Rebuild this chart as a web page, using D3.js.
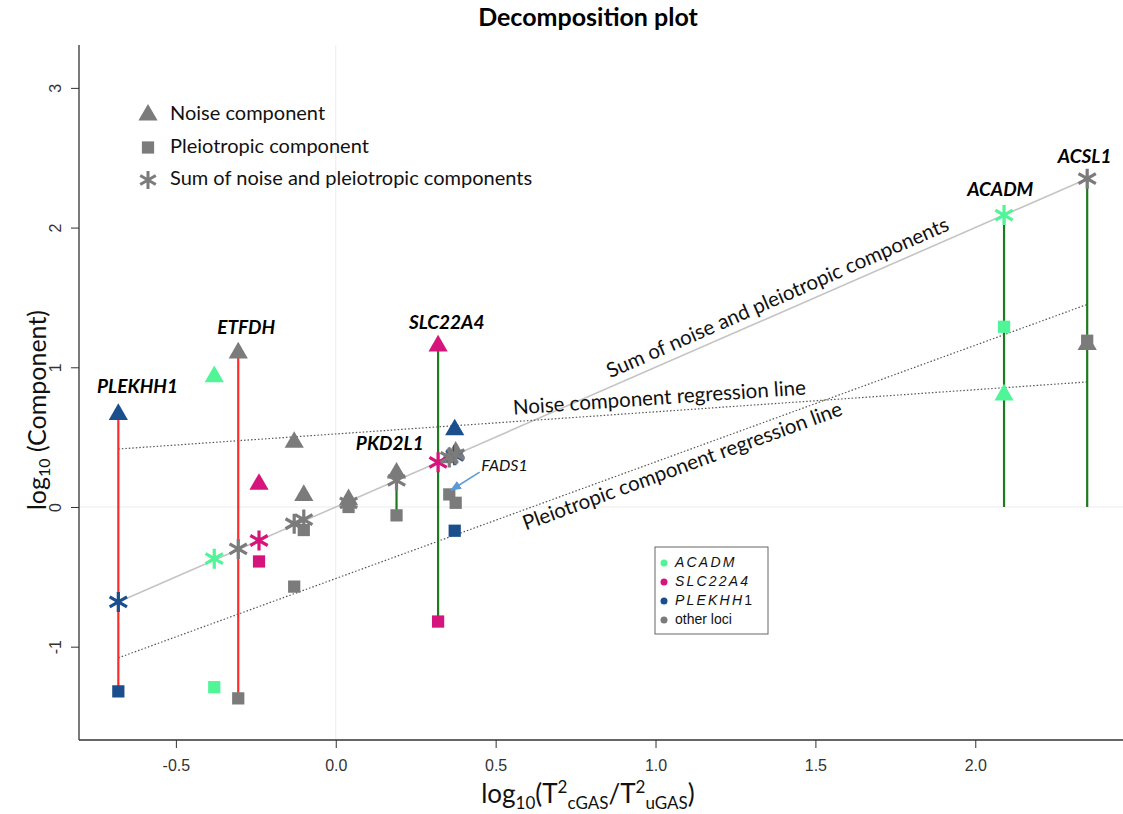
<!DOCTYPE html>
<html>
<head>
  <meta charset="utf-8">
  <title>Decomposition plot</title>
  <style>
    body { margin: 0; background: #fff; }
  </style>
</head>
<body>
<div class="container"></div>
<script src="https://d3js.org/d3.v7.min.js"></script>
<script>
// one entry per locus
var groups = ["PLEKHH1", "other", "ACADM", "SLC22A4", "other", "other", "other", "other", "SLC22A4", "PLEKHH1", "other", "other", "ACADM", "other"];
var xVals  = [-0.68, -0.305, -0.38, -0.24, -0.13, -0.10, 0.04, 0.19, 0.32, 0.372, 0.355, 0.375, 2.09, 2.35];
var noise  = [0.67, 1.11, 0.94, 0.17, 0.47, 0.09, 0.06, 0.25, 1.16, 0.56, 0.36, 0.40, 0.81, 1.17];
var pleio  = [-1.32, -1.37, -1.29, -0.39, -0.57, -0.165, 0.00, -0.06, -0.82, -0.17, 0.09, 0.03, 1.29, 1.19];
var sums   = [-0.68, -0.30, -0.37, -0.24, -0.12, -0.09, 0.03, 0.19, 0.32, 0.37, 0.355, 0.375, 2.09, 2.35];

// vertical segments
var segX      = [-0.68, -0.305, 0.19, 0.32, 2.09, 2.35];
var segTop    = [0.67, 1.11, 0.25, 1.16, 2.09, 2.35];
var segBottom = [-1.32, -1.37, -0.06, -0.82, 0, 0];
var segKind   = ["red", "red", "green", "green", "green", "green"];

// regression lines (x range, y at ends)
var lineX     = [-0.68, 2.35];
var sumLineY  = [-0.68, 2.35];
var noiseRegY = [0.415, 0.895];
var pleioRegY = [-1.08, 1.45];

// gene labels
var geneNames = ["PLEKHH1", "ETFDH", "SLC22A4", "PKD2L1", "ACADM", "ACSL1"];
var geneX     = [-0.62, -0.28, 0.347, 0.169, 2.078, 2.342];
var geneY     = [0.85, 1.27, 1.31, 0.44, 2.26, 2.50];

var xTicks = [-0.5, 0.0, 0.5, 1.0, 1.5, 2.0];
var yTicks = [-1, 0, 1, 2, 3];

var colors = {ACADM: "#4ff597", SLC22A4: "#d5157b", PLEKHH1: "#1b4e8d", other: "#7b7b7b"};
var segColors = {red: "#ff2a2a", green: "#1e7a1e"};

var W = 1123, H = 814;
var margin = {top: 45, right: 0, bottom: 74, left: 79};
var width = W - margin.left - margin.right,
    height = H - margin.top - margin.bottom;

var svg = d3.select(".container").append("svg")
    .attr("width", W).attr("height", H)
    .style("font-family", "Lato, 'Open Sans', sans-serif");

var x = d3.scaleLinear().domain([-0.803, 2.462]).range([0, width]);
var y = d3.scaleLinear().domain([-1.668, 3.307]).range([height, 0]);

var g = svg.append("g").attr("transform", "translate(" + margin.left + "," + margin.top + ")");

// faint zero lines
g.append("line").attr("x1", x(0)).attr("x2", x(0)).attr("y1", 0).attr("y2", height)
    .attr("stroke", "#ececec").attr("stroke-width", 1);
g.append("line").attr("x1", 0).attr("x2", width).attr("y1", y(0)).attr("y2", y(0))
    .attr("stroke", "#ececec").attr("stroke-width", 1);

// axes
var hyphen = function(d) { return d3.format(".1f")(d).replace("−", "-"); };
var xAxis = g.append("g").attr("transform", "translate(0," + height + ")")
    .call(d3.axisBottom(x).tickValues(xTicks).tickFormat(hyphen).tickSize(8).tickSizeOuter(0).tickPadding(12));
var yAxis = g.append("g")
    .call(d3.axisLeft(y).tickValues(yTicks).tickFormat(function(d){ return String(d); }).tickSize(8).tickSizeOuter(0));
[xAxis, yAxis].forEach(function(a) {
  a.select(".domain").attr("stroke", "#333").attr("stroke-width", 1.3);
  a.selectAll(".tick line").attr("stroke", "#333");
  a.selectAll("text").attr("font-family", "'Liberation Sans Narrow', 'Liberation Sans', sans-serif")
    .attr("font-size", 16).attr("fill", "#333");
});
xAxis.select(".domain").attr("d", "M0,0H" + width);
yAxis.select(".domain").attr("d", "M0,0V" + height);
yAxis.selectAll(".tick text")
    .attr("transform", "translate(-24,0) rotate(-90)")
    .attr("text-anchor", "middle").attr("x", 0).attr("dy", "0.35em");

// regression lines
var lineGen = d3.line().x(function(d){ return x(d[0]); }).y(function(d){ return y(d[1]); });
function pairs(ys) { return lineX.map(function(v, i){ return [v, ys[i]]; }); }
g.append("path").attr("d", lineGen(pairs(sumLineY))).attr("stroke", "#c4c4c4").attr("stroke-width", 1.6).attr("fill", "none");
g.append("path").attr("d", lineGen(pairs(noiseRegY))).attr("stroke", "#555").attr("stroke-width", 1.2)
    .attr("stroke-dasharray", "1.5,2").attr("fill", "none");
g.append("path").attr("d", lineGen(pairs(pleioRegY))).attr("stroke", "#555").attr("stroke-width", 1.2)
    .attr("stroke-dasharray", "1.5,2").attr("fill", "none");

// labels along lines
function lineLabel(ys, atX, text, offset) {
  var px0 = x(lineX[0]), py0 = y(ys[0]), px1 = x(lineX[1]), py1 = y(ys[1]);
  var ang = Math.atan2(py1 - py0, px1 - px0) * 180 / Math.PI;
  var t = (atX - lineX[0]) / (lineX[1] - lineX[0]);
  var cx = px0 + t * (px1 - px0), cy = py0 + t * (py1 - py0);
  g.append("text")
    .attr("transform", "translate(" + cx + "," + cy + ") rotate(" + ang + ")")
    .attr("y", offset).attr("text-anchor", "middle")
    .attr("font-size", 20.5).attr("fill", "#111").text(text);
}
lineLabel(sumLineY, 1.40, "Sum of noise and pleiotropic components", -8);
lineLabel(noiseRegY, 1.015, "Noise component regression line", -7);
lineLabel(pleioRegY, 1.07, "Pleiotropic component regression line", 20);

// vertical segments
g.selectAll(".seg").data(segX).enter().append("line")
    .attr("class", "seg")
    .attr("x1", function(d){ return x(d); }).attr("x2", function(d){ return x(d); })
    .attr("y1", function(d, i){ return y(segTop[i]); })
    .attr("y2", function(d, i){ return y(segBottom[i]); })
    .attr("stroke", function(d, i){ return segColors[segKind[i]]; })
    .attr("stroke-width", 2.2);

// markers
var tri = d3.symbol().type(d3.symbolTriangle).size(160)();
var sq = d3.symbol().type(d3.symbolSquare).size(150)();
function starPath(r) {
  var p = "M0," + (-r) + "V" + r;
  [30, -30].forEach(function(a) {
    var dx = r * Math.cos(a * Math.PI / 180), dy = r * Math.sin(a * Math.PI / 180);
    p += "M" + (-dx) + "," + (-dy) + "L" + dx + "," + dy;
  });
  return p;
}

g.selectAll(".sq").data(xVals).enter().append("path")
    .attr("d", sq)
    .attr("transform", function(d, i){ return "translate(" + x(d) + "," + y(pleio[i]) + ")"; })
    .attr("fill", function(d, i){ return colors[groups[i]]; });
g.selectAll(".tri").data(xVals).enter().append("path")
    .attr("d", tri)
    .attr("transform", function(d, i){ return "translate(" + x(d) + "," + (y(noise[i]) + 1) + ")"; })
    .attr("fill", function(d, i){ return colors[groups[i]]; });
g.selectAll(".star").data(xVals).enter().append("path")
    .attr("d", starPath(10))
    .attr("transform", function(d, i){ return "translate(" + x(d) + "," + y(sums[i]) + ")"; })
    .attr("stroke", function(d, i){ return colors[groups[i]]; })
    .attr("stroke-width", 3.2).attr("fill", "none");

// gene labels
g.selectAll(".gene").data(geneNames).enter().append("text")
    .attr("x", function(d, i){ return x(geneX[i]); })
    .attr("y", function(d, i){ return y(geneY[i]); })
    .attr("text-anchor", "middle").attr("dominant-baseline", "middle")
    .attr("font-size", 19).attr("font-weight", "bold").attr("font-style", "italic")
    .attr("fill", "#000").text(function(d){ return d; });

// FADS1 annotation
svg.append("defs").append("marker").attr("id", "arr")
    .attr("viewBox", "0 0 10 10").attr("refX", 9).attr("refY", 5)
    .attr("markerWidth", 7).attr("markerHeight", 7).attr("orient", "auto")
  .append("path").attr("d", "M0,1 L10,5 L0,9 z").attr("fill", "#5b9bd5");
g.append("line")
    .attr("x1", x(0.45)).attr("y1", y(0.25)).attr("x2", x(0.36)).attr("y2", y(0.12))
    .attr("stroke", "#5b9bd5").attr("stroke-width", 1.6).attr("marker-end", "url(#arr)");
g.append("text").attr("x", x(0.455)).attr("y", y(0.285)).attr("dominant-baseline", "middle")
    .attr("font-size", 16).attr("font-style", "italic").attr("fill", "#111").text("FADS1");

// top-left legend
var legItems = [
  {shape: "tri", text: "Noise component"},
  {shape: "sq", text: "Pleiotropic component"},
  {shape: "star", text: "Sum of noise and pleiotropic components"}
];
var leg = svg.append("g").attr("transform", "translate(148,115)");
legItems.forEach(function(it, i) {
  var row = leg.append("g").attr("transform", "translate(0," + (i * 32.5) + ")");
  if (it.shape === "star") {
    row.append("path").attr("d", starPath(9)).attr("stroke", colors.other).attr("stroke-width", 3).attr("fill", "none");
  } else {
    row.append("path").attr("d", it.shape === "tri" ? tri : sq).attr("fill", colors.other);
  }
  row.append("text").attr("x", 22).attr("y", 0).attr("dominant-baseline", "middle")
    .attr("font-size", 20).attr("fill", "#111").text(it.text);
});

// locus colour legend
var keyNames = ["ACADM", "SLC22A4", "PLEKHH1", "other"];
var key = svg.append("g").attr("transform", "translate(655,547)")
    .style("font-family", "'Liberation Sans', Arial, sans-serif");
key.append("rect").attr("width", 113).attr("height", 87).attr("fill", "#fff").attr("stroke", "#666").attr("stroke-width", 1);
keyNames.forEach(function(k, i) {
  var yy = 16 + i * 19;
  key.append("circle").attr("cx", 9).attr("cy", yy).attr("r", 3.5).attr("fill", colors[k]);
  var t = key.append("text").attr("x", 20).attr("y", yy).attr("dominant-baseline", "middle")
    .attr("font-size", 14).attr("fill", "#111");
  if (k === "other") {
    t.text("other loci");
  } else if (k === "PLEKHH1") {
    t.append("tspan").attr("font-style", "italic").attr("letter-spacing", 2.2).text("PLEKHH");
    t.append("tspan").text("1");
  } else {
    t.attr("font-style", "italic").attr("letter-spacing", 2.2).text(k);
  }
});

// title
svg.append("text").attr("x", 588).attr("y", 20).attr("text-anchor", "middle").attr("dominant-baseline", "middle")
    .attr("font-size", 25).attr("font-weight", "bold").attr("fill", "#000").text("Decomposition plot");

// y axis title
var yt = svg.append("text").attr("transform", "translate(40,410) rotate(-90)")
    .attr("text-anchor", "middle").attr("dominant-baseline", "middle")
    .attr("font-size", 25).attr("fill", "#111");
yt.append("tspan").text("log");
yt.append("tspan").attr("font-size", 16).attr("dy", 6).text("10");
yt.append("tspan").attr("dy", -6).text(" (Component)");

// x axis title
var xt = svg.append("text").attr("x", 588).attr("y", 803).attr("text-anchor", "middle")
    .attr("font-size", 26).attr("fill", "#111");
xt.append("tspan").text("log");
xt.append("tspan").attr("font-size", 17).attr("dy", 6).text("10");
xt.append("tspan").attr("dy", -6).text("(T");
xt.append("tspan").attr("font-size", 17).attr("dy", -10).text("2");
xt.append("tspan").attr("font-size", 17).attr("dy", 16).text("cGAS");
xt.append("tspan").attr("dy", -6).text("/T");
xt.append("tspan").attr("font-size", 17).attr("dy", -10).text("2");
xt.append("tspan").attr("font-size", 17).attr("dy", 16).text("uGAS");
xt.append("tspan").attr("dy", -6).text(")");
</script>
</body>
</html>
